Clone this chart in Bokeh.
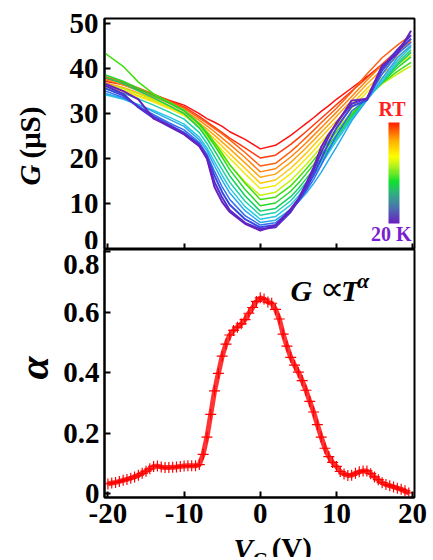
import numpy as np
from bokeh.plotting import figure
from bokeh.layouts import column, row
from bokeh.models import Range1d, FixedTicker, Label, ColorBar, LinearColorMapper, LinearAxis
from bokeh.embed import file_html
from bokeh.resources import INLINE

# ---------------- data: top panel, G(V_G) at several temperatures (RT -> 20 K)
vg_grid = [-20.3, -18, -16, -14, -12, -10, -8, -7, -6, -5, -4, -2, 0, 2, 4, 5, 6, 7, 8, 9, 10, 12, 14, 16, 18, 19.8]

g_00 = [37.2, 36.4, 35.3, 34.2, 33.0, 31.9, 30.0, 28.9, 28.1, 27.2, 26.0, 24.3, 22.2, 23.0, 25.2, 26.5, 27.8, 29.1, 30.5, 31.8, 33.2, 35.7, 38.2, 40.8, 43.5, 46.0]
g_01 = [37.8, 36.8, 35.6, 34.3, 32.9, 31.5, 29.4, 28.2, 27.0, 25.8, 24.6, 22.4, 20.2, 20.8, 23.2, 24.6, 26.0, 27.5, 29.0, 30.5, 32.0, 35.0, 38.0, 41.0, 44.0, 46.6]
g_02 = [38.2, 37.0, 35.7, 34.3, 32.8, 31.2, 29.0, 27.9, 26.7, 25.5, 24.2, 21.4, 18.4, 19.0, 21.6, 23.1, 24.7, 26.3, 28.0, 29.6, 31.2, 34.8, 38.8, 42.4, 45.2, 47.4]
g_03 = [37.5, 36.4, 35.1, 33.8, 32.3, 30.7, 28.5, 27.3, 26.0, 24.6, 23.2, 20.3, 17.1, 17.8, 20.4, 21.9, 23.5, 25.2, 26.9, 28.6, 30.3, 33.8, 37.4, 40.8, 43.6, 46.0]
g_04 = [36.8, 35.8, 34.6, 33.3, 31.8, 30.2, 27.9, 26.6, 25.2, 23.7, 22.2, 19.1, 15.9, 16.6, 19.2, 20.8, 22.4, 24.1, 25.9, 27.6, 29.4, 33.0, 36.6, 39.8, 42.6, 45.0]
g_05 = [36.2, 35.2, 34.0, 32.8, 31.4, 29.8, 27.4, 26.0, 24.4, 22.8, 21.1, 17.9, 14.6, 15.3, 17.9, 19.5, 21.2, 23.0, 24.8, 26.6, 28.4, 32.0, 35.6, 38.8, 41.6, 44.0]
g_06 = [35.8, 34.9, 33.8, 32.6, 31.2, 29.6, 27.0, 25.4, 23.7, 21.9, 20.1, 16.7, 13.4, 14.1, 16.7, 18.3, 20.0, 21.8, 23.7, 25.6, 27.5, 31.2, 34.8, 38.0, 40.8, 43.0]
g_07 = [36.5, 35.6, 34.4, 33.1, 31.7, 30.0, 27.0, 25.0, 23.0, 20.8, 18.6, 14.9, 11.9, 12.6, 15.2, 16.9, 18.7, 20.6, 22.6, 24.6, 26.6, 30.2, 33.6, 36.6, 38.8, 40.6]
g_08 = [43.3, 40.5, 37.0, 34.4, 32.6, 30.8, 27.8, 25.9, 23.6, 21.2, 18.7, 14.6, 11.0, 11.5, 14.0, 15.8, 17.7, 19.7, 21.8, 23.9, 26.0, 30.0, 33.6, 36.8, 39.4, 41.4]
g_09 = [38.6, 37.2, 35.6, 34.0, 32.4, 30.6, 27.6, 25.5, 23.0, 20.3, 17.6, 13.2, 9.6, 10.2, 12.8, 14.6, 16.6, 18.7, 20.9, 23.1, 25.3, 29.6, 33.4, 37.0, 40.2, 42.6]
g_10 = [38.0, 36.7, 35.1, 33.5, 31.8, 30.0, 26.8, 24.5, 21.8, 19.0, 16.2, 11.8, 8.4, 9.0, 11.6, 13.4, 15.5, 17.7, 20.0, 22.4, 24.8, 29.2, 33.3, 37.0, 40.8, 43.6]
g_11 = [35.5, 34.5, 33.3, 31.9, 30.4, 28.8, 25.8, 23.4, 20.5, 17.6, 14.8, 10.6, 7.5, 8.1, 10.7, 12.6, 14.7, 17.0, 19.4, 21.9, 24.4, 29.0, 33.2, 37.0, 41.2, 44.2]
g_12 = [34.2, 33.2, 32.0, 30.7, 29.3, 27.7, 24.8, 22.4, 19.3, 16.3, 13.5, 9.4, 6.6, 7.2, 9.8, 11.7, 13.8, 16.2, 18.8, 21.4, 24.0, 28.8, 33.0, 37.2, 41.8, 44.8]
g_13 = [34.5, 33.4, 32.0, 30.4, 28.8, 27.2, 24.2, 21.8, 18.4, 15.2, 12.4, 8.5, 5.9, 6.4, 8.8, 10.4, 12.3, 14.5, 17.0, 19.8, 22.6, 28.4, 33.0, 37.8, 42.4, 45.2]
g_14 = [35.0, 33.6, 31.6, 29.8, 28.0, 26.4, 23.6, 21.0, 17.2, 13.8, 11.0, 7.4, 5.3, 5.8, 8.6, 10.6, 12.8, 15.4, 18.6, 22.0, 25.2, 30.6, 33.2, 38.8, 43.2, 45.8]
g_15 = [35.6, 34.0, 31.6, 29.4, 27.6, 25.8, 23.2, 20.6, 16.2, 12.6, 9.8, 6.6, 4.8, 5.3, 8.4, 10.6, 13.2, 16.4, 20.0, 23.6, 26.8, 31.6, 33.0, 39.6, 43.8, 46.6]
g_16 = [36.2, 34.4, 31.4, 29.0, 27.2, 25.4, 22.8, 20.2, 14.8, 11.4, 8.6, 5.8, 4.4, 4.8, 8.2, 10.8, 13.8, 17.4, 21.4, 25.0, 28.0, 32.2, 33.4, 40.2, 44.2, 47.4]
g_17 = [36.6, 35.0, 33.2, 28.9, 27.4, 25.5, 22.9, 20.0, 13.7, 10.4, 8.2, 5.6, 4.1, 5.2, 8.9, 11.1, 14.4, 18.1, 22.6, 25.5, 27.7, 32.9, 33.3, 40.7, 43.3, 48.4]

curve_colors = ["#ff1010", "#ff3a10", "#ff6010", "#ff8410", "#ffa510", "#ffc810",
                "#f2ea10", "#c8f010", "#40e010", "#28d828", "#10d060", "#20d0a8",
                "#28c8e0", "#28a8f0", "#3070f0", "#3a48e0", "#5030d0", "#6a20c0"]

# ---------------- data: bottom panel, exponent alpha(V_G)
vg_alpha = [-20.0, -19.5, -19.0, -18.5, -18.0, -17.5, -17.0, -16.5, -16.0, -15.5,
            -15.0, -14.5, -14.0, -13.5, -13.0, -12.5, -12.0, -11.5, -11.0, -10.5,
            -10.0, -9.5, -9.0, -8.5, -8.0, -7.5, -7.0, -6.5, -6.0, -5.5,
            -5.0, -4.5, -4.0, -3.5, -3.0, -2.5, -2.0, -1.5, -1.0, -0.5,
            0.0, 0.5, 1.0, 1.5, 2.0, 2.5, 3.0, 3.5, 4.0, 4.5,
            5.0, 5.5, 6.0, 6.5, 7.0, 7.5, 8.0, 8.5, 9.0, 9.5,
            10.0, 10.5, 11.0, 11.5, 12.0, 12.5, 13.0, 13.5, 14.0, 14.5,
            15.0, 15.5, 16.0, 16.5, 17.0, 17.5, 18.0, 18.5, 19.0, 19.5]
alpha_val = [0.032, 0.035, 0.037, 0.040, 0.044, 0.047, 0.051, 0.055, 0.061, 0.067,
             0.074, 0.082, 0.090, 0.091, 0.088, 0.086, 0.086, 0.087, 0.088, 0.090,
             0.091, 0.092, 0.092, 0.092, 0.096, 0.130, 0.187, 0.262, 0.340, 0.398,
             0.455, 0.495, 0.525, 0.540, 0.551, 0.562, 0.576, 0.597, 0.616, 0.636,
             0.648, 0.644, 0.634, 0.630, 0.610, 0.578, 0.528, 0.488, 0.451, 0.425,
             0.402, 0.374, 0.342, 0.305, 0.270, 0.228, 0.187, 0.150, 0.122, 0.103,
             0.090, 0.073, 0.065, 0.060, 0.061, 0.067, 0.072, 0.075, 0.075, 0.066,
             0.055, 0.046, 0.036, 0.030, 0.026, 0.022, 0.018, 0.014, 0.009, 0.002]

x_ticks = [-20, -10, 0, 10, 20]
x_tick_labels = ["-20", "-10", "0", "10", "20"]
g_ticks = [0, 10, 20, 30, 40, 50]
a_ticks = [0, 0.2, 0.4, 0.6, 0.8]
a_label_pos = [0, 0.2, 0.4, 0.6, 0.758]      # where the tick texts sit (0.8 text sits inside the frame)
a_tick_labels = ["0", "0.2", "0.4", "0.6", "0.8"]

SERIF = "Liberation Serif"
XR = (-20.45, 20.25)


def style_axis(ax, size="29px"):
    ax.axis_line_color = "black"
    ax.axis_line_width = 2
    ax.major_tick_in = 6
    ax.major_tick_out = 0
    ax.major_tick_line_width = 2
    ax.minor_tick_line_color = None
    ax.major_label_text_font = SERIF
    ax.major_label_text_font_style = "bold"
    ax.major_label_text_font_size = size
    ax.major_label_text_color = "black"
    ax.major_label_standoff = 6


def blank_fig(w, h, xr, yr, **kw):
    f = figure(frame_width=w, frame_height=h, x_range=xr, y_range=yr,
               output_backend="svg", toolbar_location=None, **kw)
    f.axis.visible = False
    f.grid.visible = False
    f.outline_line_color = None
    return f


# ---------------- top panel
top = figure(frame_width=310, frame_height=231, min_border_left=54, min_border_right=19,
             min_border_top=18, min_border_bottom=0,
             x_range=Range1d(*XR), y_range=Range1d(-0.11, 51.11),
             output_backend="svg", toolbar_location=None)
top.grid.visible = False
top.outline_line_color = "black"
top.outline_line_width = 2
style_axis(top.yaxis[0])
top.yaxis.ticker = FixedTicker(ticks=g_ticks)
style_axis(top.xaxis[0], size="1px")
top.xaxis.ticker = FixedTicker(ticks=x_ticks)
top.xaxis.major_label_overrides = {t: "" for t in x_ticks}
top.xaxis.major_label_standoff = 0

curves = [g_00, g_01, g_02, g_03, g_04, g_05, g_06, g_07, g_08, g_09,
          g_10, g_11, g_12, g_13, g_14, g_15, g_16, g_17]
for i, (gv, col) in enumerate(zip(curves, curve_colors)):
    top.line(vg_grid, gv, line_color=col, line_width=2.0 if i >= 15 else 1.5)

# temperature colour bar
anchors_pos = [0.0, 0.15, 0.3, 0.42, 0.55, 0.66, 0.82, 1.0]
anchors_col = ["#6a20c0", "#4a70b0", "#30b080", "#10e030", "#a8f020", "#ffff00", "#ffb000", "#ff2000"]
def _hex(c):
    return [int(c[i:i + 2], 16) for i in (1, 3, 5)]
rgb = np.array([_hex(c) for c in anchors_col], dtype=float)
tt = np.linspace(0, 1, 100)
pal = ["#%02x%02x%02x" % tuple(int(round(np.interp(t, anchors_pos, rgb[:, k]))) for k in range(3)) for t in tt]
mapper = LinearColorMapper(palette=pal, low=0, high=1)
cb = ColorBar(color_mapper=mapper, orientation="vertical", width=11, height=101,
              location=(284, 26), padding=0, ticker=FixedTicker(ticks=[]),
              major_tick_line_color=None, minor_tick_line_color=None,
              bar_line_color=None, border_line_color=None,
              background_fill_alpha=0, label_standoff=0)
top.add_layout(cb)
top.add_layout(Label(x=17.3, y=31.0, text="RT", text_align="center", text_baseline="middle",
                     text_font=SERIF, text_font_style="bold", text_font_size="20px",
                     text_color="#ff2020"))
top.add_layout(Label(x=17.2, y=3.4, text="20 K", text_align="center", text_baseline="middle",
                     text_font=SERIF, text_font_style="bold", text_font_size="20px",
                     text_color="#7a1fd0"))

# y label of the top panel, "G (μS)", in its own strip (page pixel coordinates)
ylab = blank_fig(50, 249, Range1d(0, 50), Range1d(249, 0), min_border=0)
ylab.add_layout(Label(x=29.5, y=167, text="G", angle=np.pi / 2, text_align="left",
                      text_baseline="middle", text_font=SERIF, text_font_style="bold italic",
                      text_font_size="29px", text_color="black"))
ylab.add_layout(Label(x=29.5, y=140, text="(μS)", angle=np.pi / 2, text_align="left",
                      text_baseline="middle", text_font=SERIF, text_font_style="bold",
                      text_font_size="29px", text_color="black"))

# ---------------- bottom panel
bot = figure(frame_width=310, frame_height=248, min_border_left=54, min_border_right=19,
             min_border_top=0, min_border_bottom=38,
             x_range=top.x_range, y_range=Range1d(-0.013, 0.808),
             output_backend="svg", toolbar_location=None)
bot.grid.visible = False
bot.outline_line_color = "black"
bot.outline_line_width = 2
style_axis(bot.xaxis[0])
bot.xaxis.ticker = FixedTicker(ticks=x_ticks)
bot.xaxis.major_label_overrides = dict(zip(x_ticks, x_tick_labels))
style_axis(bot.yaxis[0], size="1px")
bot.yaxis.ticker = FixedTicker(ticks=a_ticks)
bot.yaxis.major_label_overrides = {t: "" for t in a_ticks}
bot.yaxis.major_label_standoff = 0

lab_axis = LinearAxis(ticker=FixedTicker(ticks=a_label_pos),
                      major_label_overrides=dict(zip(a_label_pos, a_tick_labels)))
style_axis(lab_axis)
lab_axis.axis_line_color = None
lab_axis.major_tick_line_color = None
lab_axis.major_label_standoff = 5
bot.add_layout(lab_axis, "left")

bot.line(vg_alpha, alpha_val, line_color="#ff0000", line_width=5, line_alpha=0.8)
bot.scatter(vg_alpha, alpha_val, marker="cross", size=11, line_color="#ff0000", line_width=1.2)

bot.add_layout(Label(x=3.96, y=0.672, text="G", text_align="left", text_baseline="alphabetic",
                     text_font=SERIF, text_font_style="bold italic", text_font_size="30px",
                     text_color="black"))
bot.add_layout(Label(x=7.8, y=0.681, text="∝", text_align="left", text_baseline="middle",
                     text_font="DejaVu Sans", text_font_size="34px", text_color="black"))
bot.add_layout(Label(x=10.6, y=0.672, text="T", text_align="left", text_baseline="alphabetic",
                     text_font=SERIF, text_font_style="bold italic", text_font_size="30px",
                     text_color="black"))
bot.add_layout(Label(x=12.7, y=0.705, text="α", text_align="left", text_baseline="alphabetic",
                     text_font=SERIF, text_font_style="bold italic", text_font_size="22px",
                     text_color="black"))

# y label of the bottom panel, "α", in its own strip (page pixel coordinates)
alab = blank_fig(50, 248, Range1d(0, 50), Range1d(497, 249), min_border=0)
alab.add_layout(Label(x=33, y=367.5, text="α", angle=np.pi / 2, text_align="center",
                      text_baseline="middle", text_font=SERIF, text_font_style="bold italic",
                      text_font_size="42px", text_color="black"))

# x label "V_G (V)" in its own strip, same horizontal frame as the panels
xlab = blank_fig(310, 22, top.x_range, Range1d(22, 0),
                 min_border_left=104, min_border_right=19, min_border_top=0, min_border_bottom=0)
xlab.add_layout(Label(x=-3.52, y=-3, text="V", text_align="left", text_baseline="top",
                      text_font=SERIF, text_font_style="bold italic", text_font_size="29px",
                      text_color="black"))
xlab.add_layout(Label(x=-1.0, y=13, text="G", text_align="left", text_baseline="top",
                      text_font=SERIF, text_font_style="bold", text_font_size="20px",
                      text_color="black"))
xlab.add_layout(Label(x=1.5, y=-4, text="(V)", text_align="left", text_baseline="top",
                      text_font=SERIF, text_font_style="bold", text_font_size="29px",
                      text_color="black"))

layout = column(row(ylab, top, spacing=0), row(alab, bot, spacing=0), xlab, spacing=0)
open("out.html", "w").write(file_html(layout, INLINE))
